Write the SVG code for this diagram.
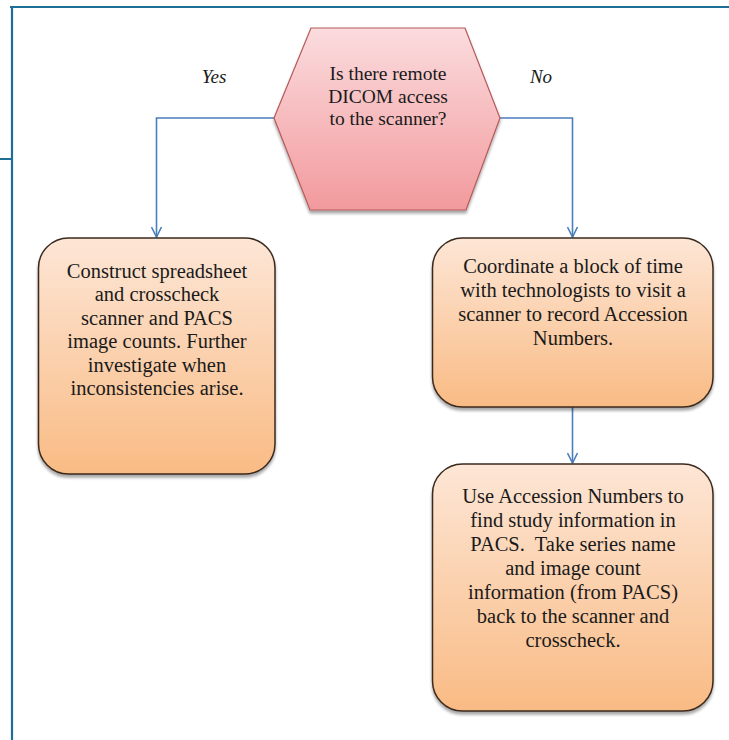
<svg xmlns="http://www.w3.org/2000/svg" width="729" height="740" viewBox="0 0 729 740">
  <style>
    .frame { stroke: #1e6f98; stroke-width: 2.2; fill: none; }
    .box { stroke: #3b2a1e; stroke-width: 1.5; fill: url(#peach); filter: url(#shadow); }
    .hex { stroke: #b45a5a; stroke-width: 1.2; fill: url(#rose); filter: url(#shadow); }
    .link { stroke: #4a7ebb; stroke-width: 1.6; fill: none; marker-end: url(#vee); }
    text { font-family: "Liberation Serif", "Times New Roman", serif; fill: #1a1a1a; text-anchor: middle; white-space: pre; }
    .t { font-size: 20.5px; }
    .q { font-size: 19.5px; }
    .lbl { font-size: 19px; font-style: italic; }
  </style>
  <defs>
    <linearGradient id="peach" x1="0" y1="0" x2="0" y2="1">
      <stop offset="0" stop-color="#fde6d6"/>
      <stop offset="1" stop-color="#f9bb84"/>
    </linearGradient>
    <linearGradient id="rose" x1="0" y1="0" x2="0" y2="1">
      <stop offset="0" stop-color="#fbdcde"/>
      <stop offset="1" stop-color="#f29a9d"/>
    </linearGradient>
    <filter id="shadow" x="-10%" y="-10%" width="120%" height="125%">
      <feGaussianBlur in="SourceAlpha" stdDeviation="1.5"/>
      <feOffset dx="0" dy="2.5" result="b"/>
      <feComponentTransfer><feFuncA type="linear" slope="0.35"/></feComponentTransfer>
      <feMerge><feMergeNode/><feMergeNode in="SourceGraphic"/></feMerge>
    </filter>
    <!-- open chevron arrowhead, pointing along the path direction -->
    <marker id="vee" viewBox="0 0 12 12" refX="11" refY="6" markerWidth="12" markerHeight="12" markerUnits="userSpaceOnUse" orient="auto">
      <path d="M1 1 L11 6 L1 11" fill="none" stroke="#4a7ebb" stroke-width="1.6"/>
    </marker>
  </defs>

  <!-- page frame -->
  <g id="frame">
    <path class="frame" d="M10 7 H729 M12 6 V740 M0 159 H12"/>
  </g>

  <!-- connectors -->
  <g id="connectors">
    <path class="link" d="M274 118 H156.5 V237"/>
    <path class="link" d="M500 118 H572.5 V237"/>
    <path class="link" d="M572.5 407 V463"/>
  </g>

  <g id="label-yes"><text class="lbl" x="214" y="83">Yes</text></g>
  <g id="label-no"><text class="lbl" x="541" y="83">No</text></g>

  <!-- decision -->
  <g id="decision">
    <polygon class="hex" points="311,28 465,28 500,118 466,210 310,210 274,118"/>
    <text class="q" x="388" y="80">Is there remote</text>
    <text class="q" x="388" y="102.5">DICOM access</text>
    <text class="q" x="388" y="125">to the scanner?</text>
  </g>

  <!-- remote path -->
  <g id="spreadsheet">
    <rect class="box" x="38.5" y="238" width="236.5" height="236" rx="30"/>
    <text class="t" x="157" y="277.5">Construct spreadsheet</text>
    <text class="t" x="157" y="301">and crosscheck</text>
    <text class="t" x="157" y="324.5">scanner and PACS</text>
    <text class="t" x="157" y="348">image counts. Further</text>
    <text class="t" x="157" y="371.5">investigate when</text>
    <text class="t" x="157" y="395">inconsistencies arise.</text>
  </g>

  <!-- on-site path -->
  <g id="coordinate">
    <rect class="box" x="432.5" y="238" width="280.5" height="169" rx="30"/>
    <text class="t" x="573" y="273">Coordinate a block of time</text>
    <text class="t" x="573" y="297">with technologists to visit a</text>
    <text class="t" x="573" y="321">scanner to record Accession</text>
    <text class="t" x="573" y="345">Numbers.</text>
  </g>

  <g id="crosscheck">
    <rect class="box" x="432.5" y="464" width="280.5" height="247" rx="30"/>
    <text class="t" x="573" y="503">Use Accession Numbers to</text>
    <text class="t" x="573" y="527">find study information in</text>
    <text class="t" x="573" y="551" xml:space="preserve">PACS.  Take series name</text>
    <text class="t" x="573" y="575">and image count</text>
    <text class="t" x="573" y="599">information (from PACS)</text>
    <text class="t" x="573" y="623">back to the scanner and</text>
    <text class="t" x="573" y="647">crosscheck.</text>
  </g>
</svg>
